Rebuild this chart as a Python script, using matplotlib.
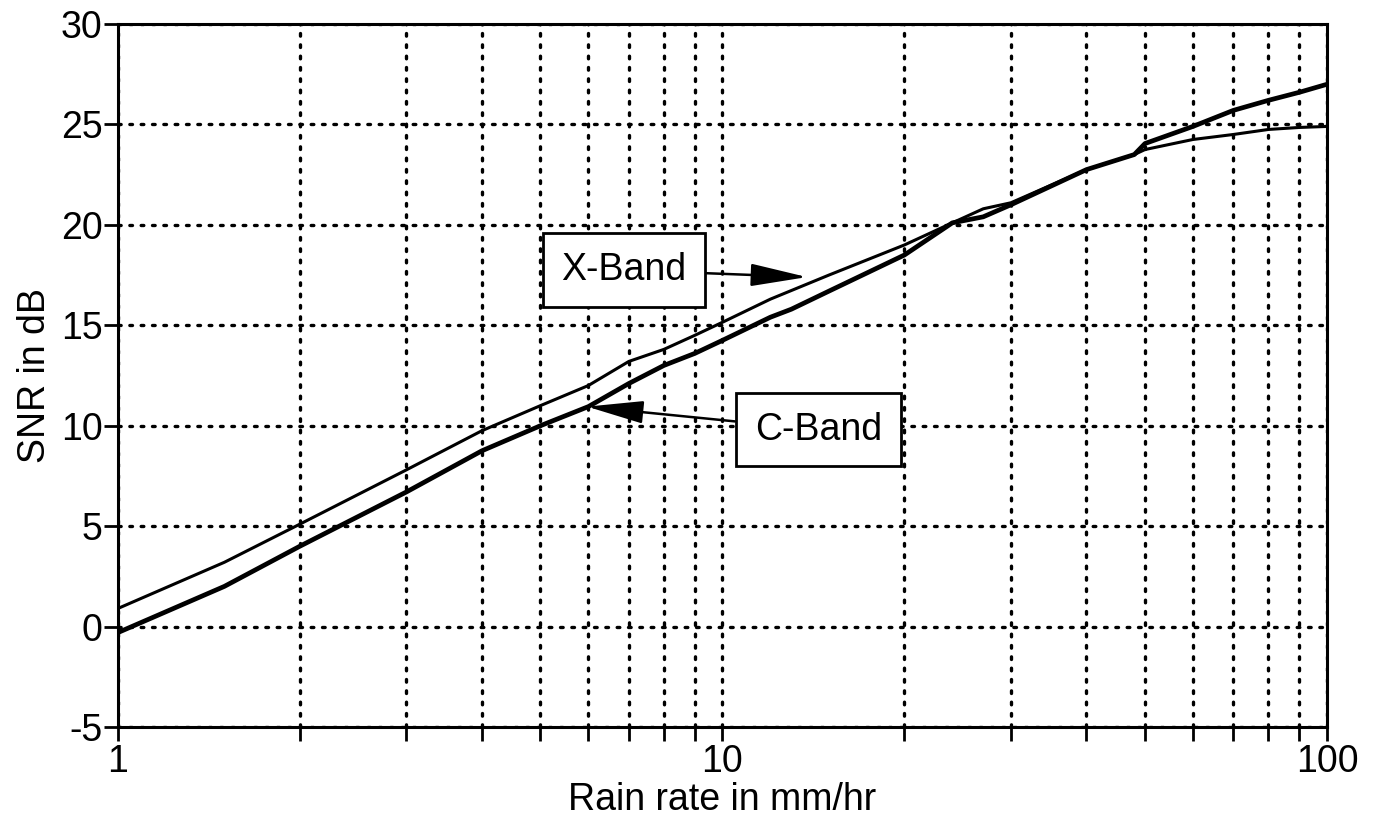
import numpy as np
import matplotlib.pyplot as plt
from matplotlib.ticker import FixedLocator, LogLocator, NullFormatter

# values
rain_x = [1, 1.5, 2, 3, 4, 5, 6, 7, 8, 9, 10, 12, 15, 20, 24, 27, 30, 40, 48, 50, 60, 70, 80, 90, 100]
snr_x = [0.9, 3.2, 5.1, 7.8, 9.75, 11.0, 12.0, 13.2, 13.8, 14.5, 15.15, 16.3, 17.5, 19.0, 20.1, 20.8,
         21.1, 22.75, 23.5, 23.75, 24.25, 24.5, 24.75, 24.85, 24.9]
rain_c = [1, 1.5, 2, 3, 4, 5, 6, 7, 8, 9, 10, 12, 13, 15, 20, 24, 27, 30, 40, 48, 50, 60, 70, 80, 90, 100]
snr_c = [-0.3, 2.0, 4.0, 6.7, 8.75, 10.0, 10.95, 12.1, 13.0, 13.6, 14.25, 15.4, 15.8, 16.7, 18.5, 20.1, 20.4,
         21.0, 22.75, 23.5, 24.05, 24.9, 25.7, 26.2, 26.6, 27.0]
y_ticks = [-5, 0, 5, 10, 15, 20, 25, 30]

plt.rcParams['font.family'] = ['Liberation Sans', 'DejaVu Sans']
plt.rcParams['axes.unicode_minus'] = False

fig = plt.figure(figsize=(13.73, 8.31), dpi=100)
ax = fig.add_axes([0.0859, 0.1252, 0.8806, 0.8459])

ax.plot(rain_x, snr_x, color='black', lw=2.2, solid_capstyle='butt')
ax.plot(rain_c, snr_c, color='black', lw=3.4, solid_capstyle='butt')

ax.set_xscale('log')
ax.set_xlim(1, 100)
ax.set_ylim(-5, 30)
ax.xaxis.set_major_locator(FixedLocator([1, 10, 100]))
ax.xaxis.set_minor_locator(LogLocator(base=10, subs=np.arange(2, 10)))
ax.xaxis.set_minor_formatter(NullFormatter())
ax.set_xticks([1, 10, 100])
ax.set_xticklabels(['1', '10', '100'])
ax.set_yticks(y_ticks)

ax.tick_params(axis='both', which='both', direction='out', length=10, width=2, labelsize=27, pad=1)
ax.tick_params(axis='x', pad=2)

grid_style = dict(color='black', linestyle=(0, (0.8, 2.6)), linewidth=2.4, dash_capstyle='round')
ax.grid(True, which='major', axis='both', **grid_style)
ax.grid(True, which='minor', axis='x', **grid_style)
for s in ax.spines.values():
    s.set_linewidth(2.2)

ax.set_xlabel('Rain rate in mm/hr', fontsize=27, labelpad=2)
ax.set_ylabel('SNR in dB', fontsize=27, labelpad=6)

box = dict(boxstyle='square,pad=0.5', fc='white', ec='black', lw=2)
arrow = dict(arrowstyle='-|>,head_length=1.3,head_width=0.26', color='black', lw=1.8, shrinkA=0, shrinkB=0)
ax.annotate('X-Band', xy=(13.8, 17.4), xytext=(6.87, 17.75), fontsize=27, ha='center', va='center',
            bbox=box, arrowprops=arrow)
ax.annotate('C-Band', xy=(5.97, 10.95), xytext=(14.4, 9.8), fontsize=27, ha='center', va='center',
            bbox=box, arrowprops=arrow)

fig.savefig('out.png', dpi=100)
